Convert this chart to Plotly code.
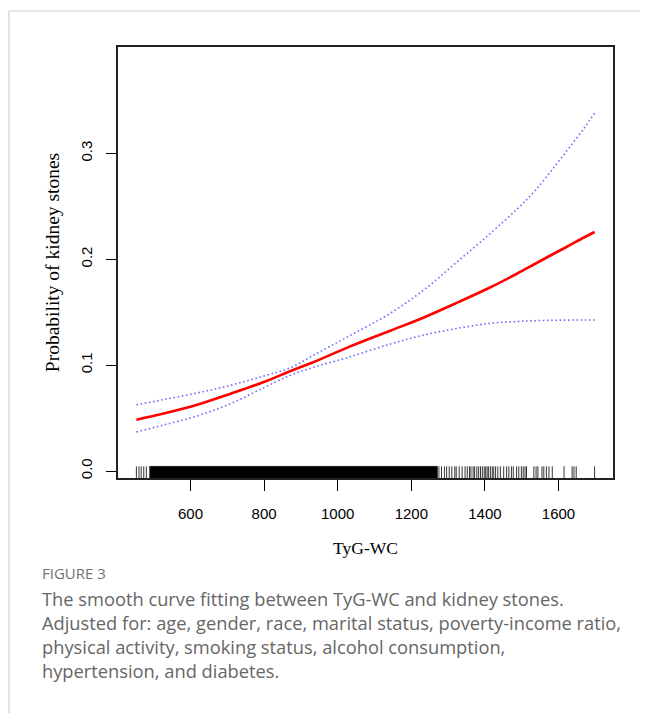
import plotly.graph_objects as go

# ---- data ----
x_vals = [453, 527, 618, 709, 799, 872, 935, 1026, 1143, 1234, 1325, 1415, 1488, 1533, 1578, 1624, 1669, 1698]
fit = [0.0485, 0.0542, 0.0625, 0.073, 0.084, 0.0944, 0.103, 0.1165, 0.1325, 0.1450, 0.1590, 0.1735, 0.1865, 0.1950, 0.2035, 0.2120, 0.2205, 0.2257]
upper = [0.0626, 0.0674, 0.0737, 0.081, 0.0897, 0.0976, 0.1095, 0.1265, 0.149, 0.171, 0.1977, 0.2245, 0.2475, 0.2635, 0.2825, 0.303, 0.3235, 0.338]
lower = [0.0368, 0.0435, 0.0520, 0.0636, 0.0787, 0.0905, 0.0980, 0.107, 0.1199, 0.1284, 0.1347, 0.1395, 0.1412, 0.1419, 0.1423, 0.1425, 0.1426, 0.1426]

rug_dense_range = [489, 1271]
rug_values = [453, 460, 466, 473, 480,
              1275, 1282, 1290, 1296, 1303, 1310, 1318, 1322, 1330, 1338, 1346, 1352, 1358,
              1362, 1368, 1372, 1378, 1383, 1388, 1393, 1398, 1402, 1406, 1410, 1415, 1420, 1424,
              1429, 1435, 1442, 1451, 1459, 1465, 1472, 1477, 1486, 1492, 1499, 1504, 1509, 1513,
              1533, 1539, 1544, 1555, 1560, 1567, 1574, 1583, 1615, 1637, 1642, 1648, 1698]

x_ticks = [600, 800, 1000, 1200, 1400, 1600]
y_ticks = [0.0, 0.1, 0.2, 0.3]
y_tick_labels = ["0.0", "0.1", "0.2", "0.3"]

caption_head = "FIGURE 3"
caption_lines = [
    "The smooth curve fitting between TyG-WC and kidney stones.",
    "Adjusted for: age, gender, race, marital status, poverty-income ratio,",
    "physical activity, smoking status, alcohol consumption,",
    "hypertension, and diabetes.",
]

# ---- layout constants (page pixels; the page body adds an 8px offset) ----
OFF = 8
W, H = 648 - OFF, 713 - OFF
L, R, T, B = 118 - OFF, 613 - OFF, 47 - OFF, 478 - OFF
y_range = [-0.0066, 0.4004]
x_range = [403, 1748]
rug_top = 0.0044
rug_bottom = y_range[0]

def px_x(px):
    return (px - OFF - L) / (R - L)

def px_y(py):
    return (B - (py - OFF)) / (B - T)

fig = go.Figure()

# rug
rx, ry = [], []
for v in rug_values:
    rx += [v, v, None]
    ry += [rug_bottom, rug_top, None]
fig.add_trace(go.Scatter(x=rx, y=ry, mode="lines", line=dict(color="black", width=0.8),
                         hoverinfo="skip", showlegend=False))
fig.add_trace(go.Scatter(x=[rug_dense_range[0], rug_dense_range[1], rug_dense_range[1], rug_dense_range[0], rug_dense_range[0]],
                         y=[rug_bottom, rug_bottom, rug_top, rug_top, rug_bottom],
                         mode="lines", fill="toself", fillcolor="black", line=dict(color="black", width=0.5),
                         hoverinfo="skip", showlegend=False))

# CI lines
for ys in (upper, lower):
    fig.add_trace(go.Scatter(x=x_vals, y=ys, mode="lines",
                             line=dict(color="rgb(110,110,255)", width=1.6, dash="1.6px,2.6px", shape="spline", smoothing=1.0),
                             showlegend=False))
# fit
fig.add_trace(go.Scatter(x=x_vals, y=fit, mode="lines", line=dict(color="red", width=2.6, shape="spline", smoothing=1.0),
                         showlegend=False))

tick_font = dict(family="Liberation Sans, Arial, sans-serif", size=15, color="black")
title_font = dict(family="Liberation Serif, Times New Roman, serif", size=17.5, color="black")
ytitle_font = dict(family="Liberation Serif, Times New Roman, serif", size=19.5, color="black")

fig.update_xaxes(range=x_range, tickvals=x_ticks, ticks="outside", ticklen=11, tickwidth=1, tickcolor="black",
                 showline=True, linecolor="#222", linewidth=1.5, mirror=True, showgrid=False, zeroline=False,
                 tickfont=tick_font, ticklabelstandoff=10,
                 title=dict(text="TyG-WC", font=title_font, standoff=21))
fig.update_yaxes(range=y_range, tickvals=y_ticks, ticktext=y_tick_labels, ticks="outside", ticklen=10, tickwidth=1,
                 tickcolor="black", showline=True, linecolor="#222", linewidth=1.5, mirror=True, showgrid=False,
                 zeroline=False, tickfont=tick_font, tickangle=-90, ticklabelstandoff=8,
                 title=dict(text="Probability of kidney stones", font=ytitle_font, standoff=13))

# page borders
fig.add_shape(type="line", xref="paper", yref="paper", x0=px_x(9), x1=px_x(660), y0=px_y(11), y1=px_y(11),
              line=dict(color="#cfcfcf", width=1.2))
fig.add_shape(type="line", xref="paper", yref="paper", x0=px_x(9), x1=px_x(9), y0=px_y(11), y1=px_y(720),
              line=dict(color="#cfcfcf", width=1.2))

cap_family = "Open Sans, Noto Sans, sans-serif"
fig.add_annotation(text=caption_head, xref="paper", yref="paper", x=px_x(40), y=px_y(573), xanchor="left",
                   yanchor="middle", showarrow=False, font=dict(family=cap_family, size=15, color="#727272"))
for i, line in enumerate(caption_lines):
    fig.add_annotation(text=line, xref="paper", yref="paper", x=px_x(40), y=px_y(598 + 24 * i), xanchor="left",
                       yanchor="middle", showarrow=False, font=dict(family=cap_family, size=18.3, color="#666666"))

fig.update_layout(width=W, height=H, margin=dict(l=L, r=W - R, t=T, b=H - B),
                  paper_bgcolor="white", plot_bgcolor="white")

fig.write_html("out.html")
